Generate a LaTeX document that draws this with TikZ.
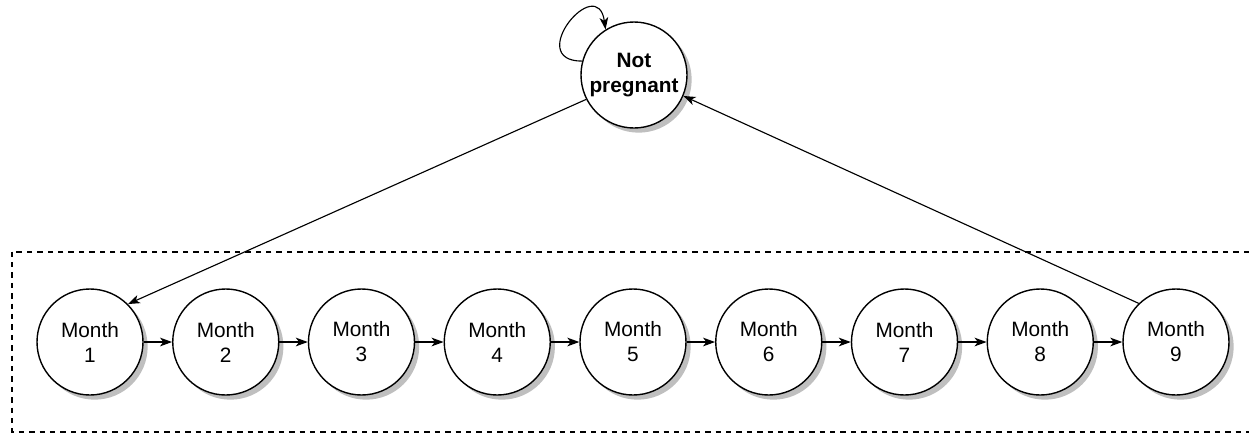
\documentclass[tikz,border=0pt]{standalone}
\usepackage{fontspec}
\setmainfont{Liberation Sans}
\usetikzlibrary{arrows.meta, shadows}

\begin{document}
\begin{tikzpicture}[x=0.75pt, y=-0.75pt, >={Stealth[length=9pt, width=6.5pt, inset=2.5pt]},
	state/.style={circle, draw, line width=1.05pt, fill=white, minimum size=79.5pt, inner sep=0pt,
		align=center, font=\fontsize{15.6}{18.8}\selectfont,
		drop shadow={shadow xshift=3.5pt, shadow yshift=-3.5pt, fill=black!25, opacity=1}},
	trans/.style={->, line width=0.85pt},
	window/.style={line width=1.5pt, dash pattern=on 4pt off 3.8pt}]
	\useasboundingbox (0,0) rectangle (1249,433);

	% 孕期月份所在区域
	\draw[window] (1249,251.5) -- (11.5,251.5) -- (11.5,431.5) -- (1249,431.5);

	% 未怀孕状态
	\node[state, font=\fontsize{15.6}{18.8}\selectfont\bfseries] (np) at (634,75) {Not\\pregnant};

	% 各月份状态
	\foreach \i in {1,...,9}
		\node[state] (m\i) at ({90+135.75*(\i-1)},342) {Month\\\i};

	% 转移
	\draw[trans] (np.165) to[out=180, in=98, distance=44pt] (np.122);
	\draw[trans] (np.207) -- (m1.45);
	\foreach \i [evaluate=\i as \j using int(\i+1)] in {1,...,8}
		\draw[trans] (m\i.east) -- (m\j.west);
	\draw[trans] (m9.134) -- (np.337);
\end{tikzpicture}
\end{document}
